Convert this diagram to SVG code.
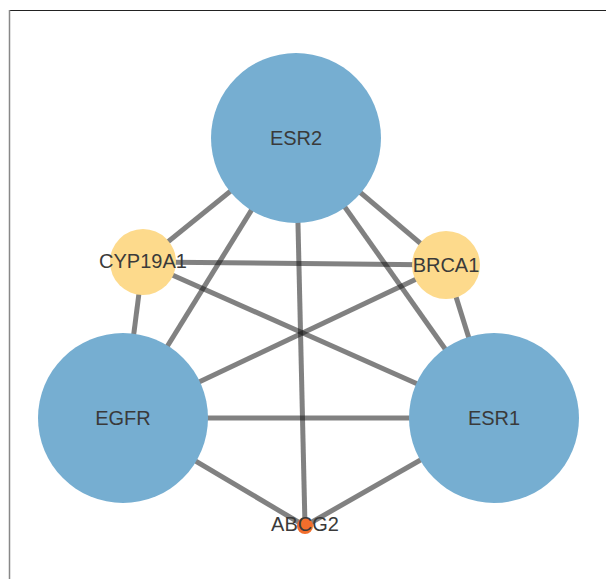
<svg xmlns="http://www.w3.org/2000/svg" width="606" height="579" viewBox="0 0 606 579">
  <style>
    .edge { stroke: #1a1a1a; stroke-opacity: 0.55; stroke-width: 5; fill: none; }
    .big { fill: #76aed1; }
    .mid { fill: #fdda8c; }
    .small { fill: #f26e2c; }
    .label { font-family: "Liberation Sans", Arial, sans-serif; font-size: 20px; fill: #3a3a3a; text-anchor: middle; }
  </style>
  <rect x="0" y="0" width="606" height="579" fill="#ffffff"/>
  <!-- frame -->
  <line x1="9" y1="10.5" x2="606" y2="10.5" stroke="#222" stroke-width="1"/>
  <line x1="9.5" y1="10" x2="9.5" y2="579" stroke="#888" stroke-width="1.5"/>

  <g id="edges">
    <line class="edge" x1="296" y1="138" x2="143" y2="262"/>
    <line class="edge" x1="296" y1="138" x2="446" y2="265"/>
    <line class="edge" x1="296" y1="138" x2="123" y2="418"/>
    <line class="edge" x1="296" y1="138" x2="494" y2="418"/>
    <line class="edge" x1="296" y1="138" x2="305" y2="526"/>
    <line class="edge" x1="143" y1="262" x2="446" y2="265"/>
    <line class="edge" x1="143" y1="262" x2="123" y2="418"/>
    <line class="edge" x1="143" y1="262" x2="494" y2="418"/>
    <line class="edge" x1="446" y1="265" x2="123" y2="418"/>
    <line class="edge" x1="446" y1="265" x2="494" y2="418"/>
    <line class="edge" x1="123" y1="418" x2="494" y2="418"/>
    <line class="edge" x1="123" y1="418" x2="305" y2="526"/>
    <line class="edge" x1="494" y1="418" x2="305" y2="526"/>
  </g>

  <g id="ESR2">
    <circle class="big" cx="296" cy="138" r="85"/>
    <text class="label" x="296" y="145">ESR2</text>
  </g>
  <g id="EGFR">
    <circle class="big" cx="123" cy="418" r="85"/>
    <text class="label" x="123" y="425">EGFR</text>
  </g>
  <g id="ESR1">
    <circle class="big" cx="494" cy="418" r="85"/>
    <text class="label" x="494" y="425">ESR1</text>
  </g>
  <g id="CYP19A1">
    <circle class="mid" cx="143" cy="262" r="33"/>
    <text class="label" x="143" y="268">CYP19A1</text>
  </g>
  <g id="BRCA1">
    <circle class="mid" cx="446" cy="265" r="34"/>
    <text class="label" x="446" y="272">BRCA1</text>
  </g>
  <g id="ABCG2">
    <circle class="small" cx="305" cy="526" r="8"/>
    <text class="label" x="305" y="531">ABCG2</text>
  </g>
</svg>
